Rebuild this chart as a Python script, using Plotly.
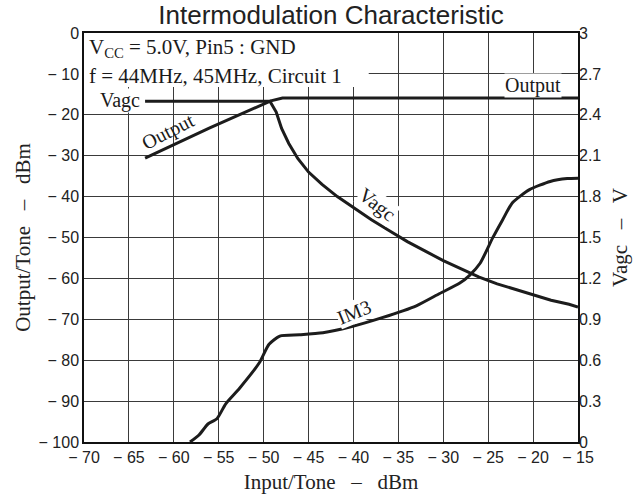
import plotly.graph_objects as go

# ---- data ----
output_x = [-63.2, -56.0, -49.2, -47.9, -15.0]
output_y = [-30.6, -23.2, -16.6, -15.9, -15.9]

vagc_x = [-63.2, -49.3, -48.6, -48.0, -47.2, -46.2, -45.0, -43.5, -41.8, -40.0,
          -38.0, -36.0, -34.0, -32.0, -30.0, -28.0, -26.0, -24.0, -22.0, -20.0,
          -18.0, -16.0, -15.0]
vagc_v = [2.50, 2.50, 2.42, 2.30, 2.19, 2.08, 1.98, 1.89, 1.80, 1.72,
          1.63, 1.55, 1.47, 1.40, 1.33, 1.27, 1.21, 1.16, 1.12, 1.08,
          1.04, 1.01, 0.99]

im3_x = [-58.2, -57.2, -56.2, -55.2, -54.2, -52.7, -50.5, -49.4, -48.2, -46.0,
         -43.4, -40.4, -36.8, -33.0, -30.4, -28.2, -27.1, -25.9, -24.5, -23.4,
         -22.3, -20.4, -18.1, -16.2, -15.0]
im3_y = [-100.0, -98.3, -95.6, -94.3, -90.6, -86.9, -80.7, -76.1, -74.1, -73.8,
         -73.3, -71.9, -69.6, -66.7, -63.7, -61.2, -59.3, -56.3, -50.1, -45.7,
         -41.5, -38.3, -36.3, -35.6, -35.5]

x_ticks = [-70, -65, -60, -55, -50, -45, -40, -35, -30, -25, -20, -15]
x_ticktext = ["\u2212 70", "\u2212 65", "\u2212 60", "\u2212 55", "\u2212 50", "\u2212 45",
              "\u2212 40", "\u2212 35", "\u2212 30", "\u2212 25", "\u2212 20", "\u2212 15"]
y_ticks = [0, -10, -20, -30, -40, -50, -60, -70, -80, -90, -100]
y_ticktext = ["0", "\u2212 10", "\u2212 20", "\u2212 30", "\u2212 40", "\u2212 50",
              "\u2212 60", "\u2212 70", "\u2212 80", "\u2212 90", "\u2212 100"]
y2_ticks = [0, 0.3, 0.6, 0.9, 1.2, 1.5, 1.8, 2.1, 2.4, 2.7, 3.0]
y2_ticktext = ["0", "0.3", "0.6", "0.9", "1.2", "1.5", "1.8", "2.1", "2.4", "2.7", "3"]

LINE = "#1c1c1c"
SANS = "Liberation Sans, Arial, sans-serif"
SERIF = "Liberation Serif, Times New Roman, serif"
TXT = "#1a1a1a"
GAP = "\u2002 "

fig = go.Figure()
fig.add_trace(go.Scatter(x=output_x, y=output_y, mode="lines",
                         line=dict(color=LINE, width=3), showlegend=False))
fig.add_trace(go.Scatter(x=im3_x, y=im3_y, mode="lines",
                         line=dict(color=LINE, width=3, shape="spline", smoothing=0.6),
                         showlegend=False))
fig.add_trace(go.Scatter(x=vagc_x, y=vagc_v, mode="lines", yaxis="y2",
                         line=dict(color=LINE, width=3),
                         showlegend=False))

# white area behind the condition text (hides the grid)
fig.add_shape(type="rect", xref="x", yref="y", x0=-70, x1=-38.3, y0=-13.2, y1=0,
              fillcolor="white", line=dict(width=0), layer="between")

ann = []
ann.append(dict(x=-69.7, y=-3.6, xref="x", yref="y", xanchor="left", yanchor="middle",
                text="V<sub>CC</sub> = 5.0V, Pin5 : GND", showarrow=False,
                font=dict(family=SERIF, size=21, color=TXT)))
ann.append(dict(x=-69.7, y=-10.4, xref="x", yref="y", xanchor="left", yanchor="middle",
                text="f = 44MHz, 45MHz, Circuit 1", showarrow=False,
                font=dict(family=SERIF, size=21, color=TXT)))
ann.append(dict(x=-20.0, y=-12.8, xref="x", yref="y", text="Output", showarrow=False,
                bgcolor="white", borderpad=0, font=dict(family=SERIF, size=20, color=TXT)))
ann.append(dict(x=-66.0, y=-16.5, xref="x", yref="y", text="Vagc", showarrow=False,
                bgcolor="white", borderpad=0, font=dict(family=SERIF, size=20, color=TXT)))
ann.append(dict(x=-60.6, y=-24.0, xref="x", yref="y", text="Output", showarrow=False,
                textangle=-27, font=dict(family=SERIF, size=20, color=TXT)))
ann.append(dict(x=-37.4, y=-42.0, xref="x", yref="y", text="Vagc", showarrow=False,
                textangle=38, bgcolor="white", borderpad=0,
                font=dict(family=SERIF, size=20, color=TXT)))
ann.append(dict(x=-39.9, y=-68.3, xref="x", yref="y", text="IM3", showarrow=False,
                textangle=-22, bgcolor="white", borderpad=0,
                font=dict(family=SERIF, size=20, color=TXT)))

fig.update_layout(
    width=644, height=494,
    margin=dict(l=84, r=66, t=33, b=52, autoexpand=False),
    paper_bgcolor="white", plot_bgcolor="white",
    title=dict(text="Intermodulation Characteristic", x=331 / 644, xanchor="center",
               y=1 - 15 / 494, yanchor="middle", yref="container",
               font=dict(family=SANS, size=26, color="#222")),
    annotations=ann,
    xaxis=dict(range=[-70, -15], tickvals=x_ticks, ticktext=x_ticktext,
               showgrid=True, gridcolor="#3a3a3a", gridwidth=1, zeroline=False,
               showline=True, linecolor="#111", linewidth=1.5, mirror=True,
               automargin=False,
               ticks="", tickfont=dict(family=SANS, size=16, color="#222"),
               title=dict(text="Input/Tone" + GAP + "\u2013" + GAP + "dBm", standoff=11,
                          font=dict(family=SERIF, size=21, color="#222"))),
    yaxis=dict(range=[-100, 0], tickvals=y_ticks, ticktext=y_ticktext,
               showgrid=True, gridcolor="#3a3a3a", gridwidth=1, zeroline=False,
               showline=True, linecolor="#111", linewidth=1.5, mirror=True,
               automargin=False,
               ticks="", tickfont=dict(family=SANS, size=16, color="#222"),
               title=dict(text="Output/Tone" + GAP + "\u2013" + GAP + "dBm", standoff=2,
                          font=dict(family=SERIF, size=21, color="#222"))),
    yaxis2=dict(range=[0, 3], overlaying="y", side="right", tickvals=y2_ticks,
                ticktext=y2_ticktext, showgrid=False, zeroline=False, ticks="",
                automargin=False,
                tickfont=dict(family=SANS, size=16, color="#222"),
                title=dict(text="Vagc" + GAP + "\u2013" + GAP + "V", standoff=11,
                           font=dict(family=SERIF, size=21, color="#222"))),
)

fig.write_html("out.html")
